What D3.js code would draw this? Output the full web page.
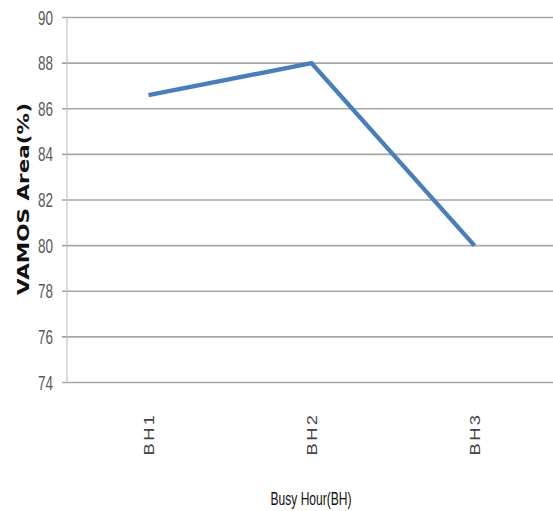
<!DOCTYPE html>
<html>
<head>
<meta charset="utf-8">
<script src="https://cdn.jsdelivr.net/npm/d3@7"></script>
<style>
  html, body { margin: 0; padding: 0; background: #fff; }
  svg { display: block; }
</style>
</head>
<body>
<svg id="chart" width="553" height="511"></svg>
<script>
// Busy-hour categories and VAMOS area share (%)
const categories = ["BH1", "BH2", "BH3"];
const vamosArea = [86.6, 88.0, 80.0];
const yTicks = [74, 76, 78, 80, 82, 84, 86, 88, 90];

const svg = d3.select("#chart");
const plot = { left: 67, right: 556, top: 17.5, bottom: 382.5 };

const x = d3.scaleBand().domain(categories).range([plot.left, plot.right]);
const y = d3.scaleLinear().domain([74, 90]).range([plot.bottom, plot.top]);

// horizontal gridlines (extended left as tick marks)
svg.append("g").selectAll("line").data(yTicks).join("line")
  .attr("x1", plot.left - 5).attr("x2", 553)
  .attr("y1", d => y(d)).attr("y2", d => y(d))
  .attr("stroke", "#a6a6a6").attr("stroke-width", 1.6);

// vertical axis line
svg.append("line")
  .attr("x1", plot.left).attr("x2", plot.left)
  .attr("y1", plot.top).attr("y2", plot.bottom)
  .attr("stroke", "#c4c4c4").attr("stroke-width", 1.2);

// y tick labels (condensed)
svg.append("g").selectAll("text").data(yTicks).join("text")
  .attr("x", 53).attr("y", d => y(d) + 7)
  .attr("text-anchor", "end")
  .attr("font-family", "'Liberation Sans Narrow', 'Liberation Sans', Arial, sans-serif")
  .attr("font-size", 20)
  .attr("fill", "#595959")
  .attr("textLength", 15).attr("lengthAdjust", "spacingAndGlyphs")
  .text(d => d);

// x tick labels, rotated
svg.append("g").selectAll("text").data(categories).join("text")
  .attr("transform", d => `translate(${x(d) + x.bandwidth() / 2 + 5.5},434) rotate(-90)`)
  .attr("text-anchor", "middle")
  .attr("font-family", "'Liberation Sans', Arial, sans-serif")
  .attr("font-size", 15)
  .attr("letter-spacing", 2)
  .attr("fill", "#444")
  .attr("textLength", 43).attr("lengthAdjust", "spacingAndGlyphs")
  .text(d => d);

// line series
const line = d3.line()
  .x((d, i) => x(categories[i]) + x.bandwidth() / 2)
  .y(d => y(d));

svg.append("path")
  .datum(vamosArea)
  .attr("d", line)
  .attr("fill", "none")
  .attr("stroke", "#4a7ebb")
  .attr("stroke-width", 4.4)
  .attr("stroke-linejoin", "miter");

// axis titles
svg.append("text")
  .attr("transform", "translate(29,199) rotate(-90)")
  .attr("text-anchor", "middle")
  .attr("font-family", "'DejaVu Sans', Verdana, sans-serif")
  .attr("font-weight", "bold")
  .attr("font-size", 15)
  .attr("fill", "#111")
  .attr("textLength", 192).attr("lengthAdjust", "spacingAndGlyphs")
  .text("VAMOS Area(%)");

svg.append("text")
  .attr("x", 311).attr("y", 505)
  .attr("text-anchor", "middle")
  .attr("font-family", "'Liberation Sans Narrow', 'Liberation Sans', Arial, sans-serif")
  .attr("font-size", 18)
  .attr("fill", "#111")
  .attr("textLength", 81).attr("lengthAdjust", "spacingAndGlyphs")
  .text("Busy Hour(BH)");
</script>
</body>
</html>
